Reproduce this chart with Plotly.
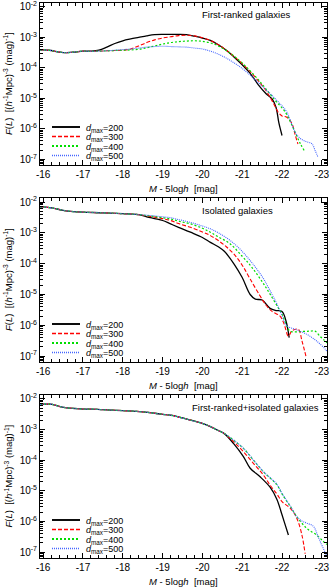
import numpy as np
import plotly.graph_objects as go

# absolute magnitude M - 5 log h and log10 of the luminosity function F(L)
# panel 1: first-ranked galaxies
p1_m_200 = [-15.92, -16.0, -16.2, -16.4, -16.6, -16.8, -17.0, -17.2, -17.4, -17.6, -17.8, -18.0,
            -18.2, -18.4, -18.6, -18.8, -19.0, -19.2, -19.4, -19.6, -19.8, -20.0, -20.2, -20.4,
            -20.6, -20.8, -21.0, -21.2, -21.4, -21.6, -21.75, -21.85, -21.92, -22.0]
p1_f_200 = [-3.41, -3.41, -3.43, -3.48, -3.50, -3.48, -3.45, -3.45, -3.42, -3.32, -3.20, -3.11,
            -3.05, -3.00, -2.95, -2.91, -2.90, -2.90, -2.90, -2.91, -2.96, -3.02, -3.10, -3.24,
            -3.42, -3.65, -3.90, -4.18, -4.55, -4.85, -5.02, -5.30, -5.80, -6.22]
p1_m_300 = [-15.92, -16.0, -16.2, -16.4, -16.6, -16.8, -17.0, -17.2, -17.4, -17.6, -17.8, -18.0,
            -18.2, -18.4, -18.6, -18.8, -19.0, -19.2, -19.4, -19.6, -19.8, -20.0, -20.2, -20.4,
            -20.6, -20.8, -21.0, -21.2, -21.4, -21.6, -21.8, -21.9, -22.0, -22.12, -22.25, -22.33, -22.4]
p1_f_300 = [-3.41, -3.41, -3.43, -3.48, -3.50, -3.48, -3.45, -3.46, -3.45, -3.44, -3.43, -3.42,
            -3.38, -3.28, -3.17, -3.08, -3.02, -2.98, -2.94, -2.93, -2.95, -3.01, -3.10, -3.24,
            -3.42, -3.63, -3.86, -4.12, -4.42, -4.75, -5.20, -5.45, -5.58, -5.62, -5.83, -6.20, -6.50]
p1_m_400 = [-15.92, -16.0, -16.2, -16.4, -16.6, -16.8, -17.0, -17.2, -17.4, -17.6, -17.8, -18.0,
            -18.2, -18.4, -18.6, -18.8, -19.0, -19.2, -19.4, -19.6, -19.8, -20.0, -20.2, -20.4,
            -20.6, -20.8, -21.0, -21.2, -21.4, -21.6, -21.83, -22.08, -22.29, -22.46, -22.58]
p1_f_400 = [-3.41, -3.41, -3.43, -3.48, -3.50, -3.48, -3.45, -3.46, -3.45, -3.44, -3.43, -3.42,
            -3.41, -3.39, -3.34, -3.28, -3.22, -3.17, -3.14, -3.12, -3.11, -3.13, -3.18, -3.28,
            -3.43, -3.62, -3.84, -4.10, -4.38, -4.70, -5.07, -5.45, -6.00, -6.49, -6.76]
p1_m_500 = [-15.92, -16.0, -16.2, -16.4, -16.6, -16.8, -17.0, -17.2, -17.4, -17.6, -17.8, -18.0,
            -18.2, -18.4, -18.6, -18.8, -19.0, -19.2, -19.4, -19.6, -19.8, -20.0, -20.2, -20.4,
            -20.6, -20.8, -21.0, -21.2, -21.4, -21.6, -21.79, -22.0, -22.12, -22.33, -22.46, -22.6,
            -22.75, -22.83, -22.9]
p1_f_500 = [-3.41, -3.41, -3.43, -3.48, -3.50, -3.48, -3.45, -3.46, -3.45, -3.44, -3.42, -3.40,
            -3.38, -3.35, -3.32, -3.30, -3.29, -3.30, -3.31, -3.32, -3.35, -3.38, -3.45, -3.55,
            -3.68, -3.84, -4.02, -4.24, -4.48, -4.72, -4.96, -5.25, -5.45, -6.11, -6.32, -6.42,
            -6.49, -6.71, -6.92]

# panel 2: isolated galaxies
p2_m_200 = [-15.92, -16.0, -16.25, -16.5, -16.75, -17.0, -17.5, -18.0, -18.4, -18.6, -18.8, -19.0,
            -19.2, -19.4, -19.7, -20.0, -20.2, -20.4, -20.55, -20.8, -21.0, -21.2, -21.33, -21.5,
            -21.7, -21.85, -22.0, -22.1, -22.18]
p2_f_200 = [-2.16, -2.16, -2.20, -2.27, -2.31, -2.33, -2.35, -2.38, -2.41, -2.48, -2.54, -2.60,
            -2.71, -2.82, -2.98, -3.15, -3.31, -3.45, -3.60, -4.02, -4.45, -5.00, -5.15, -5.18,
            -5.45, -5.52, -5.55, -5.86, -6.40]
p2_m_300 = [-15.92, -16.0, -16.25, -16.5, -16.75, -17.0, -17.5, -18.0, -18.4, -18.6, -18.8, -19.0,
            -19.2, -19.4, -19.7, -20.0, -20.2, -20.4, -20.6, -20.8, -21.0, -21.2, -21.45, -21.6,
            -21.75, -21.95, -22.05, -22.16, -22.25, -22.41, -22.5, -22.6]
p2_f_300 = [-2.16, -2.16, -2.20, -2.27, -2.31, -2.33, -2.35, -2.38, -2.41, -2.45, -2.49, -2.54,
            -2.60, -2.70, -2.82, -2.97, -3.09, -3.25, -3.45, -3.70, -4.05, -4.50, -5.05, -5.35,
            -5.55, -5.70, -5.95, -6.35, -6.18, -6.13, -6.50, -7.00]
p2_m_400 = [-15.92, -16.0, -16.25, -16.5, -16.75, -17.0, -17.5, -18.0, -18.4, -18.6, -18.8, -19.0,
            -19.2, -19.4, -19.7, -20.0, -20.2, -20.4, -20.7, -21.0, -21.2, -21.37, -21.55, -21.7,
            -21.9, -22.0, -22.12, -22.2, -22.5, -22.7, -22.83, -22.95, -23.04, -23.13]
p2_f_400 = [-2.16, -2.16, -2.20, -2.27, -2.31, -2.33, -2.35, -2.38, -2.41, -2.44, -2.47, -2.51,
            -2.55, -2.62, -2.71, -2.85, -2.98, -3.13, -3.36, -3.76, -4.05, -4.34, -4.68, -4.99,
            -5.42, -5.64, -6.02, -6.19, -6.20, -6.19, -6.19, -6.35, -6.46, -6.57]
p2_m_500 = [-15.92, -16.0, -16.25, -16.5, -16.75, -17.0, -17.5, -18.0, -18.4, -18.6, -18.8, -19.0,
            -19.2, -19.4, -19.7, -20.0, -20.2, -20.4, -20.7, -21.0, -21.2, -21.37, -21.55, -21.7,
            -21.85, -21.95, -22.05, -22.12, -22.33, -22.62, -22.87, -23.09, -23.13]
p2_f_500 = [-2.16, -2.16, -2.20, -2.27, -2.31, -2.33, -2.35, -2.38, -2.41, -2.43, -2.45, -2.48,
            -2.51, -2.57, -2.66, -2.78, -2.87, -3.00, -3.25, -3.60, -3.90, -4.18, -4.52, -4.88,
            -5.25, -5.53, -5.85, -6.02, -6.13, -6.29, -6.51, -6.78, -6.85]

# panel 3: first-ranked + isolated galaxies
p3_m_base = [-15.92, -16.0, -16.2, -16.4, -16.6, -16.8, -17.0, -17.2, -17.5, -18.0, -18.5, -19.0,
             -19.2, -19.5, -19.7, -20.0, -20.2, -20.4, -20.55]
p3_f_base = [-2.18, -2.17, -2.17, -2.24, -2.29, -2.31, -2.33, -2.33, -2.35, -2.38, -2.42, -2.50,
             -2.53, -2.62, -2.69, -2.80, -2.90, -3.03, -3.13]
p3_m_200 = [-20.78, -21.03, -21.2, -21.45, -21.7, -21.87, -22.0, -22.08, -22.16]
p3_f_200 = [-3.45, -3.88, -4.26, -4.54, -4.88, -5.27, -5.78, -6.11, -6.44]
p3_m_300 = [-20.78, -21.03, -21.28, -21.53, -21.7, -21.87, -22.0, -22.21, -22.37, -22.5, -22.58]
p3_f_300 = [-3.39, -3.72, -4.10, -4.48, -4.81, -5.10, -5.35, -5.57, -5.89, -6.44, -7.05]
p3_m_400 = [-20.78, -21.03, -21.28, -21.53, -21.87, -22.0, -22.21, -22.37, -22.62, -22.87, -23.04, -23.13]
p3_f_400 = [-3.34, -3.61, -3.99, -4.37, -4.80, -5.10, -5.51, -5.84, -6.22, -6.44, -6.65, -6.75]
p3_m_500 = [-20.78, -21.03, -21.28, -21.53, -21.87, -22.0, -22.21, -22.37, -22.5, -22.62, -22.79,
            -22.92, -23.09, -23.13]
p3_f_500 = [-3.34, -3.61, -3.99, -4.37, -4.78, -5.08, -5.50, -5.84, -5.98, -6.05, -6.16, -6.54,
            -7.03, -7.15]

dmax = [200, 300, 400, 500]
titles = ['First-ranked galaxies', 'Isolated galaxies', 'First-ranked+isolated galaxies']
x_ticks = [-16, -17, -18, -19, -20, -21, -22, -23]
y_ticks = [-7, -6, -5, -4, -3, -2]

panels = [
    [(p1_m_200, p1_f_200), (p1_m_300, p1_f_300), (p1_m_400, p1_f_400), (p1_m_500, p1_f_500)],
    [(p2_m_200, p2_f_200), (p2_m_300, p2_f_300), (p2_m_400, p2_f_400), (p2_m_500, p2_f_500)],
    [(p3_m_base + p3_m_200, p3_f_base + p3_f_200), (p3_m_base + p3_m_300, p3_f_base + p3_f_300),
     (p3_m_base + p3_m_400, p3_f_base + p3_f_400), (p3_m_base + p3_m_500, p3_f_base + p3_f_500)],
]

W, H = 330, 588
FONT = 'Liberation Sans, Arial, sans-serif'
colors = ['#000000', '#ff0000', '#00dd00', '#4466ff']
dashes = ['solid', '4px,2px', '2px,2px', '1px,1px']
widths = [1.3, 1.1, 1.2, 1.1]

# frame positions of the three panels in pixels (top, bottom), and where each label starts
frames = [(3, 165), (198, 362), (395, 558)]
title_left = [200, 200, 190]
x_left, x_right = 40, 327


def px(x):
    return x / W


def py(y):
    return 1 - y / H


def label(x, y, text, size=9.5, xanchor='center', angle=0):
    return dict(x=px(x), y=py(y), xref='paper', yref='paper', text=text, showarrow=False,
                xanchor=xanchor, yanchor='middle', textangle=angle,
                font=dict(size=size, family=FONT, color='black'))


fig = go.Figure()
shapes = []
annotations = []
minor_y = [k * 10.0 ** e for e in range(-8, -1) for k in range(2, 10)]
tick_font = dict(size=10, family=FONT, color='black')

for i, series in enumerate(panels):
    n = '' if i == 0 else str(i + 1)
    top, bot = frames[i]
    for j, (m, lf) in enumerate(series):
        fig.add_trace(go.Scatter(
            x=m, y=10 ** np.array(lf), mode='lines', line_shape='spline',
            line=dict(color=colors[j], dash=dashes[j], width=widths[j]),
            xaxis='x' + n, yaxis='y' + n, showlegend=False, hoverinfo='skip'))

    fig.update_layout({
        'xaxis' + n: dict(
            domain=[px(x_left), px(x_right)], anchor='y' + n, range=[-15.92, -23.13],
            tickvals=x_ticks, ticktext=[str(v) for v in x_ticks],
            ticks='inside', ticklen=5, showline=True, mirror='ticks', linecolor='black',
            linewidth=1, tickcolor='black', showgrid=False, zeroline=False,
            tickfont=tick_font,
            minor=dict(dtick=0.2, ticks='inside', ticklen=3, tickcolor='black', showgrid=False),
            automargin=False, fixedrange=True),
        'yaxis' + n: dict(
            domain=[py(bot), py(top)], anchor='x' + n, type='log', range=[-7.19, -1.87],
            tickvals=[10.0 ** v for v in y_ticks],
            ticktext=['10<sup>%d</sup>' % v for v in y_ticks],
            ticks='inside', ticklen=5, showline=True, mirror='ticks', linecolor='black',
            linewidth=1, tickcolor='black', showgrid=False, zeroline=False,
            tickfont=tick_font,
            minor=dict(tickvals=minor_y, ticks='inside', ticklen=3, tickcolor='black', showgrid=False),
            automargin=False, fixedrange=True),
    })

    # panel label, axis titles
    annotations.append(label(title_left[i], top + 12, titles[i], xanchor='left'))
    annotations.append(label(8, (top + bot) / 2,
                             '<i>F</i>(<i>L</i>)  [(<i>h</i><sup>-1</sup>Mpc)<sup>-3</sup> (mag)<sup>-1</sup>]',
                             angle=-90))
    annotations.append(label((x_left + x_right) / 2, bot + 23, '<i>M</i> - 5log<i>h</i>  [mag]'))

    # legend drawn inside the panel
    for j, d in enumerate(dmax):
        yy = bot - 38 + j * 9.5
        shapes.append(dict(type='line', xref='paper', yref='paper',
                           x0=px(52), x1=px(80), y0=py(yy), y1=py(yy),
                           line=dict(color=colors[j], dash=dashes[j], width=widths[j] + 0.6)))
        annotations.append(label(84, yy + 1, '<i>d</i><sub>max</sub>=%d' % d, size=9, xanchor='left'))

fig.update_layout(
    width=W, height=H, template='none',
    margin=dict(l=0, r=0, t=0, b=0),
    paper_bgcolor='white', plot_bgcolor='white',
    shapes=shapes, annotations=annotations, showlegend=False,
    font=dict(family=FONT, color='black'),
)

# page body has a default 8px margin; drop it so the figure sits at the window corner
fig.write_html('out.html', config={'displayModeBar': False},
               post_script="document.body.style.margin='0';")
